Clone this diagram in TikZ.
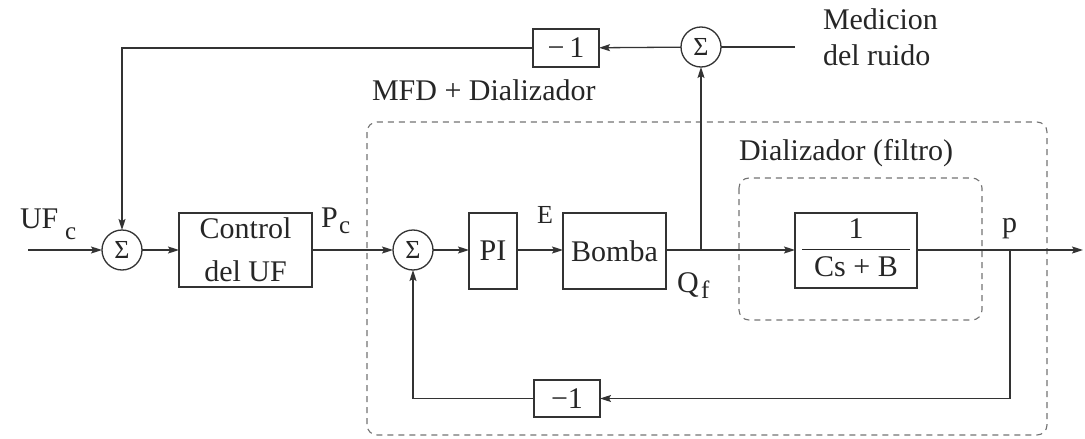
\documentclass[tikz,border=0pt]{standalone}
\usepackage{fontspec}
\setmainfont{Liberation Serif}
\usetikzlibrary{arrows.meta}
\begin{document}
\begin{tikzpicture}[x=1pt,y=-1pt,
  line width=1.3pt, draw=black!80,
  every node/.style={inner sep=0pt, outer sep=0pt, text=black!85},
  txt/.style={font=\fontsize{30}{34}\selectfont},
  sub/.style={font=\fontsize{25}{28}\selectfont},
  blk/.style={draw, line width=1.3pt, font=\fontsize{30}{34}\selectfont, align=center},
  sumc/.style={draw, circle, minimum size=40pt, line width=1.3pt, font=\fontsize{26}{28}\selectfont},
  arr/.style={-{Stealth[length=11pt,width=7pt,inset=2pt]}},
  dbox/.style={draw=black!55, line width=1.1pt, dash pattern=on 6pt off 5pt, rounded corners=10pt}]
\useasboundingbox (0,0) rectangle (1085,439);

% dashed boxes
\draw[dbox] (367,122) rectangle (1047,435);
\draw[dbox] (739,178) rectangle (982,320);

% sums
\node[sumc] (s1) at (122,250) {Σ};
\node[sumc] (s2) at (413,250) {Σ};
\node[sumc] (s3) at (701,47) {Σ};

% blocks
\node[blk, minimum width=133pt, minimum height=74pt, font=\fontsize{30}{43}\selectfont] (ctrl) at (245.5,250) {Control\\del UF};
\node[blk, minimum width=48pt, minimum height=76pt] (pi) at (493,251) {PI};
\node[blk, minimum width=103pt, minimum height=76pt] (bomba) at (614.5,251) {Bomba};
\node[blk, minimum width=122pt, minimum height=75pt] (tf) at (856,250.5)
  {\setlength{\tabcolsep}{12pt}\renewcommand{\arraystretch}{1.0}\begin{tabular}{c}1\\[1pt]\hline\rule{0pt}{27pt}Cs + B\end{tabular}};
\node[blk, minimum width=66pt, minimum height=38pt] (m1t) at (566,48) {−\,1};
\node[blk, minimum width=66pt, minimum height=37pt] (m1b) at (567,398.5) {−1};

% labels
\node[txt, anchor=base west] (uf) at (20,228) {UF};
\node[sub, anchor=base west] (ufc) at (65,239) {c};
\node[txt, anchor=base west] (pc) at (321,227) {P};
\node[sub, anchor=base west] (pcc) at (339,233) {c};
\node[txt, anchor=base west, font=\fontsize{26}{28}\selectfont] (e) at (537,223) {E};
\node[txt, anchor=base west] (q) at (677,292) {Q};
\node[sub, anchor=base west] (qf) at (701,298) {f};
\node[txt, anchor=base west] (p) at (1002,232) {p};
\node[txt, anchor=base west] (med1) at (823,30) {Medicion};
\node[txt, anchor=base west] (med2) at (823,65) {del ruido};
\node[txt, anchor=base west] (mfd) at (372,100) {MFD + Dializador};
\node[txt, anchor=base west] (dial) at (739,160) {Dializador (filtro)};

% coordinates
\coordinate (in) at (28,250);
\coordinate (out) at (1083,250);
\coordinate (br) at (701,250);
\coordinate (pb) at (1010,250);
\coordinate (noise) at (795,47);
\coordinate (tl) at (122,48);

% connectors
\draw[arr] (in) -- (s1);
\draw[arr] (s1) -- (ctrl);
\draw[arr] (ctrl.east |- s2) -- (s2);
\draw[arr] (s2) -- (pi.west |- s2);
\draw[arr] (pi.east |- s2) -- (bomba.west |- s2);
\draw[arr] (bomba.east |- s2) -- (tf.west |- s2);
\draw (tf.east |- s2) -- (pb);
\draw[arr] (pb) -- (out);
\draw[arr] (br) -- (s3);
\draw (noise) -- (s3);
\draw[arr] (s3) -- (m1t);
\draw[arr] (m1t.west) -- (tl) -- (s1);
\draw[arr] (pb) |- (m1b.east);
\draw[arr] (m1b.west) -| (s2.south);
\end{tikzpicture}
\end{document}
